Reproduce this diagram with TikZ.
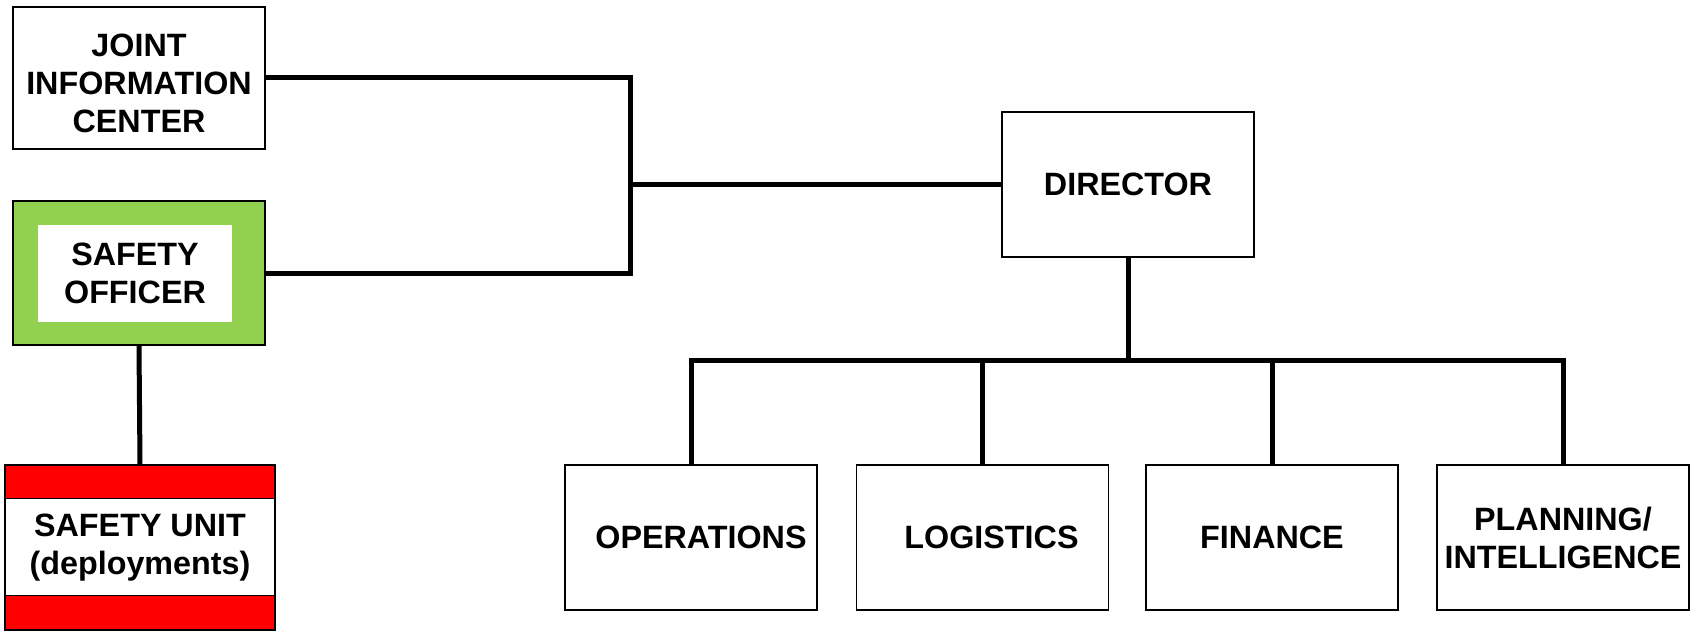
\documentclass[tikz,border=0pt]{standalone}
\usepackage{fontspec}
\setmainfont{Liberation Sans}
\usepackage{tikz}
\usetikzlibrary{positioning, calc}

\definecolor{sogreen}{HTML}{92D050}
\definecolor{sured}{HTML}{FF0000}

\begin{document}
\begin{tikzpicture}[x=1pt, y=-1pt,
    box/.style={rectangle, draw, line width=1.6pt, fill=white, minimum width=252pt, minimum height=145pt, inner sep=0pt, align=center, font=\fontsize{32.3}{38}\selectfont\bfseries},
    conn/.style={line width=5pt}]
          \useasboundingbox (0,0) rectangle (1695,631);

          % left column
          \node[box, minimum height=142pt] (jic) at (139,78) {};
          \node[box, draw=none, fill=none, minimum width=0pt, minimum height=0pt] (jictext) at ([yshift=-5pt]jic.center) {JOINT\\INFORMATION\\CENTER};
          \node[box, fill=sogreen, minimum height=144pt] (safety) at (139,273) {};
          \node[box, draw=none, minimum width=194pt, minimum height=97pt] (safetyin) at (135,273.5) {SAFETY\\OFFICER};
          \node[box, minimum width=270pt, minimum height=165pt,
                path picture={
                  \filldraw[fill=sured, line width=1pt] (path picture bounding box.north west) rectangle ([yshift=-33pt]path picture bounding box.north east);
                  \filldraw[fill=sured, line width=1pt] ([yshift=35pt]path picture bounding box.south west) rectangle (path picture bounding box.south east);
                }] (unit) at (140,547.5) {SAFETY UNIT\\(deployments)};

          % director and sections
          \node[box] (director) at (1128,184.5) {DIRECTOR};
          \node[box] (ops) at (691,537.5) {\hspace*{20pt}OPERATIONS};
          \node[box] (log) at (982.5,537.5) {\hspace*{18pt}LOGISTICS};
          \node[box] (fin) at (1272,537.5) {FINANCE};
          \node[box] (plan) at (1563,537.5) {PLANNING/\\INTELLIGENCE};

          \coordinate (joint) at (630,184.5);
          \coordinate (bus) at (1128,360);

          \draw[conn] (jic.east) -| (joint);
          \draw[conn] (safety.east) -| (joint);
          \draw[conn] (joint) -- (director.west);
          \draw[conn] (safety.south) -- (unit.north);
          \draw[conn] (director.south) -- (bus);
          \foreach \s in {ops,log,fin,plan}
            \draw[conn] (bus) -| (\s.north);
      \end{tikzpicture}
\end{document}
